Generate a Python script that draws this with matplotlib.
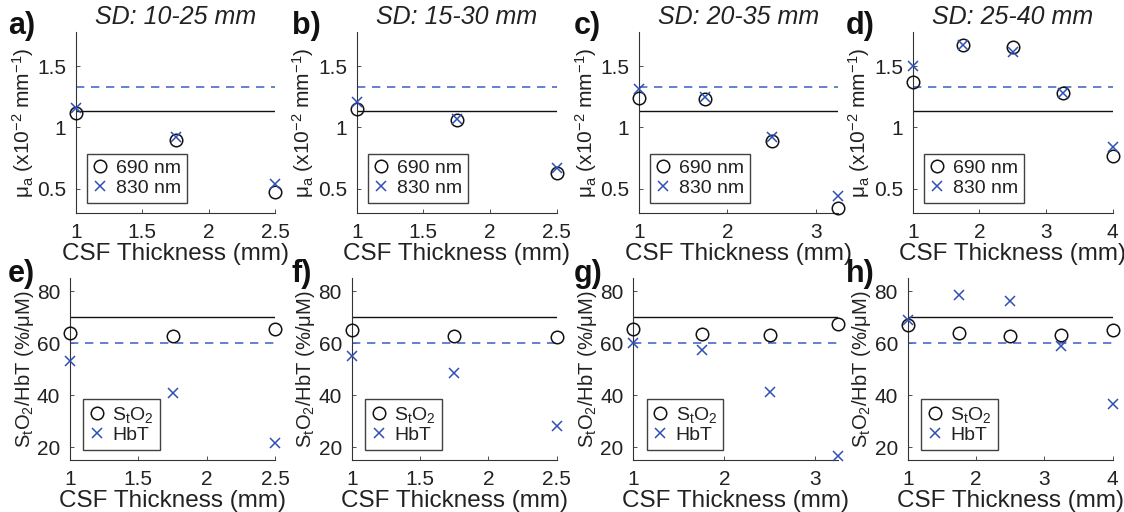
import matplotlib.pyplot as plt
import numpy as np

plt.rcParams['font.family'] = ['Liberation Sans', 'DejaVu Sans']
plt.rcParams['mathtext.default'] = 'regular'

TXT = '#222222'
BLUE = '#2f4fb5'
DASH = '#4a6cc8'

# CSF thickness values per source-detector separation
csf = [
    [1, 1.75, 2.5],
    [1, 1.75, 2.5],
    [1, 1.75, 2.5, 3.25],
    [1, 1.75, 2.5, 3.25, 4],
]
titles = ['SD: 10-25 mm', 'SD: 15-30 mm', 'SD: 20-35 mm', 'SD: 25-40 mm']
xmax = [2.5, 2.5, 3.25, 4]
xticks = [[1, 1.5, 2, 2.5], [1, 1.5, 2, 2.5], [1, 2, 3], [1, 2, 3, 4]]

# absorption coefficient (x10^-2 mm^-1)
mua_690 = [
    [1.12, 0.90, 0.47],
    [1.15, 1.06, 0.63],
    [1.24, 1.23, 0.89, 0.34],
    [1.37, 1.67, 1.66, 1.28, 0.77],
]
mua_830 = [
    [1.16, 0.92, 0.54],
    [1.21, 1.07, 0.67],
    [1.31, 1.25, 0.92, 0.44],
    [1.50, 1.67, 1.62, 1.28, 0.84],
]
mua_true_690 = 1.13
mua_true_830 = 1.33

# tissue saturation (%) and total hemoglobin (uM)
sto2 = [
    [64.0, 62.7, 65.4],
    [64.9, 62.7, 62.3],
    [65.5, 63.6, 63.3, 67.4],
    [67.2, 64.1, 62.8, 63.2, 64.9],
]
hbt = [
    [53.0, 40.9, 21.7],
    [54.9, 48.5, 28.2],
    [60.0, 57.4, 41.2, 16.5],
    [69.1, 78.7, 76.1, 59.0, 36.4],
]
sto2_true = 70
hbt_true = 60

top_labels = ['a)', 'b)', 'c)', 'd)']
bot_labels = ['e)', 'f)', 'g)', 'h)']

W, H = 1124, 512
fig = plt.figure(figsize=(W / 100, H / 100), dpi=100)

top_left = [76, 356.7, 639, 912.7]
top_w = [199, 200, 199, 200]
bot_left = [70, 351.7, 633.3, 907.7]
bot_w = [205, 205, 204.7, 205]
lab_x = [8, 292, 574, 846]


def style(ax):
    for s in ['top', 'right']:
        ax.spines[s].set_visible(False)
    for s in ['left', 'bottom']:
        ax.spines[s].set_color('#333333')
        ax.spines[s].set_linewidth(0.8)
    ax.tick_params(direction='in', length=3, width=0.6, labelsize=15,
                   colors='#333333', labelcolor=TXT, pad=7)


def add_legend(ax, anchor):
    leg = ax.legend(loc='lower left', bbox_to_anchor=anchor, borderaxespad=0,
                    fontsize=14, frameon=True, fancybox=False, handlelength=0.8,
                    handletextpad=0.4, borderpad=0.3, labelspacing=0.1)
    leg.get_frame().set_edgecolor('#111111')
    leg.get_frame().set_linewidth(1.0)
    for t in leg.get_texts():
        t.set_color(TXT)


for i in range(4):
    # top row: absorption
    ax = fig.add_axes([top_left[i] / W, 1 - 213 / H, top_w[i] / W, 181 / H])
    style(ax)
    ax.axhline(mua_true_690, color='#111111', lw=1.0)
    ax.axhline(mua_true_830, color=DASH, lw=1.2, ls=(0, (5, 4)))
    ax.plot(csf[i], mua_690[i], 'o', mfc='none', mec='#111111', ms=9, mew=1.1,
            clip_on=False, label='690 nm', zorder=3)
    ax.plot(csf[i], mua_830[i], 'x', color=BLUE, ms=7, mew=1.1,
            clip_on=False, label='830 nm', zorder=4)
    ax.set_xlim(1, xmax[i])
    ax.set_ylim(0.3, 1.78)
    ax.set_xticks(xticks[i])
    ax.set_xticklabels([('%g' % t) for t in xticks[i]])
    ax.set_yticks([0.5, 1, 1.5])
    ax.set_yticklabels(['0.5', '1', '1.5'])
    ax.set_xlabel('CSF Thickness (mm)', fontsize=17.5, color=TXT, labelpad=1)
    ax.set_ylabel(r'μ$_a$ (x10$^{-2}$ mm$^{-1}$)', fontsize=15, color=TXT, labelpad=1)
    ax.set_title(titles[i], fontsize=18, style='italic', color=TXT, pad=6)
    add_legend(ax, (0.054, 0.057))
    fig.text(lab_x[i] / W, 1 - 34 / H, top_labels[i], fontsize=22, fontweight='bold',
             color='#111111', va='baseline')

    # bottom row: StO2 / HbT
    ax = fig.add_axes([bot_left[i] / W, 1 - 460 / H, bot_w[i] / W, 181.7 / H])
    style(ax)
    ax.axhline(sto2_true, color='#111111', lw=1.0)
    ax.axhline(hbt_true, color=DASH, lw=1.2, ls=(0, (5, 4)))
    ax.plot(csf[i], sto2[i], 'o', mfc='none', mec='#111111', ms=9, mew=1.1,
            clip_on=False, label='S$_t$O$_2$', zorder=3)
    ax.plot(csf[i], hbt[i], 'x', color=BLUE, ms=7, mew=1.1,
            clip_on=False, label='HbT', zorder=4)
    ax.set_xlim(1, xmax[i])
    ax.set_ylim(15, 85)
    ax.set_xticks(xticks[i])
    ax.set_xticklabels([('%g' % t) for t in xticks[i]])
    ax.set_yticks([20, 40, 60, 80])
    ax.set_xlabel('CSF Thickness (mm)', fontsize=17.5, color=TXT, labelpad=1)
    ax.set_ylabel('S$_t$O$_2$/HbT (%/μM)', fontsize=14.5, color=TXT, labelpad=1)
    add_legend(ax, (0.065, 0.055))
    fig.text(lab_x[i] / W, 1 - 282 / H, bot_labels[i], fontsize=22, fontweight='bold',
             color='#111111', va='baseline')

fig.savefig('out.png', dpi=100)
